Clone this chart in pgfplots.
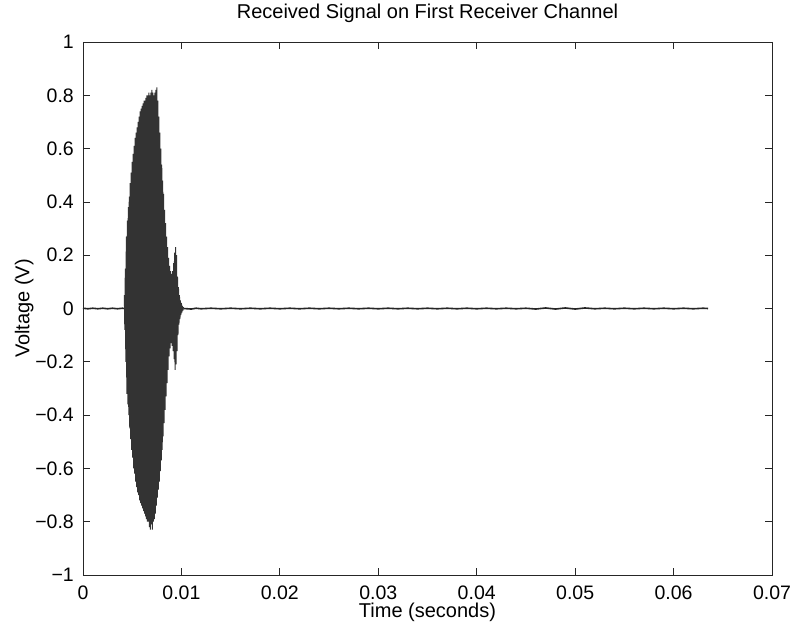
\documentclass[border=0pt]{standalone}
\usepackage{fontspec}
\setmainfont{Liberation Sans}
\usepackage{pgfplots}
\pgfplotsset{compat=1.18}
\begin{document}
\begin{tikzpicture}
\useasboundingbox (-83pt,-50pt) rectangle (708pt,575pt);
\begin{axis}[
  at={(0,0)}, anchor=south west,
  scale only axis, width=689pt, height=533pt,
  xmin=0, xmax=0.07, ymin=-1, ymax=1,
  xtick={0,0.01,0.02,0.03,0.04,0.05,0.06,0.07},
  xticklabels={0,0.01,0.02,0.03,0.04,0.05,0.06,0.07},
  ytick={-1,-0.8,-0.6,-0.4,-0.2,0,0.2,0.4,0.6,0.8,1},
  yticklabels={−1,−0.8,−0.6,−0.4,−0.2,0,0.2,0.4,0.6,0.8,1},
  tick pos=both, tick align=inside, major tick length=7pt,
  axis line style={line width=0.8pt, black!85},
  every tick/.style={black!85, line width=0.8pt},
  tick label style={font=\fontsize{19.5}{22}\selectfont, inner sep=0pt},
  xticklabel style={anchor=base, yshift=-24pt},
  yticklabel style={anchor=east, xshift=-9pt},
  title={Received Signal on First Receiver Channel},
  title style={at={(axis description cs:0.5,1.0319)}, anchor=base, font=\fontsize{20}{24}\selectfont, inner sep=0pt},
  xlabel={Time (seconds)},
  xlabel style={at={(axis description cs:0.5,-0.0788)}, anchor=base, font=\fontsize{20}{22}\selectfont, inner sep=0pt},
  ylabel={Voltage (V)},
  ylabel style={at={(axis description cs:-0.078,0.5)}, anchor=base, font=\fontsize{20}{24}\selectfont, inner sep=0pt},
]
% baseline noise
\addplot[black!85, line width=1.6pt, line join=bevel] coordinates {
(0.0000,0.001)(0.0005,-0.001)(0.0010,0.001)(0.0015,-0.001)(0.0020,0.001)(0.0025,-0.001)(0.0030,0.001)(0.0035,-0.001)(0.0040,0.001)(0.0042,0.0)
};
\addplot[black!85, line width=1.6pt, line join=bevel] coordinates {
(0.0102,0.0)(0.0110,-0.002)(0.0115,0.001)(0.0120,-0.001)(0.0130,0.001)(0.0140,-0.001)(0.0150,0.001)(0.0160,-0.001)(0.0170,0.001)(0.0180,-0.001)(0.0190,0.001)(0.0200,-0.001)(0.0210,0.001)(0.0220,-0.001)(0.0230,0.001)(0.0240,-0.001)(0.0250,0.001)(0.0260,-0.001)(0.0270,0.001)(0.0280,-0.001)(0.0290,0.001)(0.0300,-0.001)(0.0310,0.001)(0.0320,-0.001)(0.0330,0.001)(0.0340,-0.001)(0.0350,0.001)(0.0360,-0.001)(0.0370,0.001)(0.0380,-0.001)(0.0390,0.001)(0.0400,-0.001)(0.0410,0.001)(0.0420,-0.001)(0.0430,0.001)(0.0440,-0.001)(0.0450,0.001)(0.0460,-0.002)(0.0470,0.002)(0.0480,-0.002)(0.0490,0.002)(0.0500,-0.002)(0.0510,0.002)(0.0520,-0.001)(0.0530,0.001)(0.0540,-0.001)(0.0550,0.001)(0.0560,-0.001)(0.0570,0.001)(0.0580,-0.001)(0.0590,0.001)(0.0600,-0.001)(0.0610,0.001)(0.0620,-0.001)(0.0630,0.001)(0.0635,0.0)
};
% burst
\addplot[black!80, line width=1pt, line join=bevel] coordinates {
(0.00420,0.05)(0.00425,-0.08)(0.00430,0.15)(0.00435,-0.20)(0.00440,0.27)(0.00445,-0.32)(0.00450,0.33)(0.00455,-0.36)(0.00460,0.38)(0.00465,-0.40)(0.00470,0.42)(0.00475,-0.45)(0.00480,0.47)(0.00485,-0.49)(0.00490,0.51)(0.00495,-0.53)(0.00500,0.55)(0.00505,-0.56)(0.00510,0.58)(0.00515,-0.60)(0.00520,0.61)(0.00525,-0.62)(0.00530,0.64)(0.00535,-0.65)(0.00540,0.66)(0.00545,-0.67)(0.00550,0.68)(0.00555,-0.69)(0.00560,0.70)(0.00565,-0.70)(0.00570,0.72)(0.00575,-0.72)(0.00580,0.74)(0.00585,-0.73)(0.00590,0.75)(0.00595,-0.74)(0.00600,0.76)(0.00605,-0.75)(0.00610,0.77)(0.00615,-0.76)(0.00620,0.78)(0.00625,-0.77)(0.00630,0.78)(0.00635,-0.78)(0.00640,0.79)(0.00645,-0.79)(0.00650,0.80)(0.00655,-0.80)(0.00660,0.80)(0.00665,-0.80)(0.00670,0.81)(0.00675,-0.82)(0.00680,0.80)(0.00685,-0.83)(0.00690,0.81)(0.00695,-0.81)(0.00700,0.82)(0.00705,-0.83)(0.00710,0.81)(0.00715,-0.80)(0.00720,0.80)(0.00725,-0.79)(0.00730,0.81)(0.00735,-0.77)(0.00740,0.82)(0.00745,-0.74)(0.00750,0.83)(0.00755,-0.71)(0.00760,0.78)(0.00765,-0.68)(0.00770,0.72)(0.00775,-0.65)(0.00780,0.66)(0.00785,-0.61)(0.00790,0.60)(0.00795,-0.57)(0.00800,0.54)(0.00805,-0.53)(0.00810,0.48)(0.00815,-0.48)(0.00820,0.43)(0.00825,-0.43)(0.00830,0.37)(0.00835,-0.38)(0.00840,0.32)(0.00845,-0.33)(0.00850,0.27)(0.00855,-0.28)(0.00860,0.23)(0.00865,-0.23)(0.00870,0.19)(0.00875,-0.18)(0.00880,0.16)(0.00885,-0.15)(0.00890,0.14)(0.00895,-0.13)(0.00900,0.13)(0.00905,-0.14)(0.00910,0.14)(0.00915,-0.16)(0.00920,0.17)(0.00925,-0.19)(0.00930,0.21)(0.00935,-0.23)(0.00940,0.23)(0.00945,-0.21)(0.00950,0.20)(0.00955,-0.16)(0.00960,0.12)(0.00965,-0.10)(0.00970,0.08)(0.00975,-0.06)(0.00980,0.05)(0.00985,-0.04)(0.00990,0.03)(0.00995,-0.025)(0.01000,0.02)(0.01005,-0.015)(0.01010,0.01)(0.01015,-0.008)(0.01020,0.005)
};
\end{axis}
\end{tikzpicture}
\end{document}
